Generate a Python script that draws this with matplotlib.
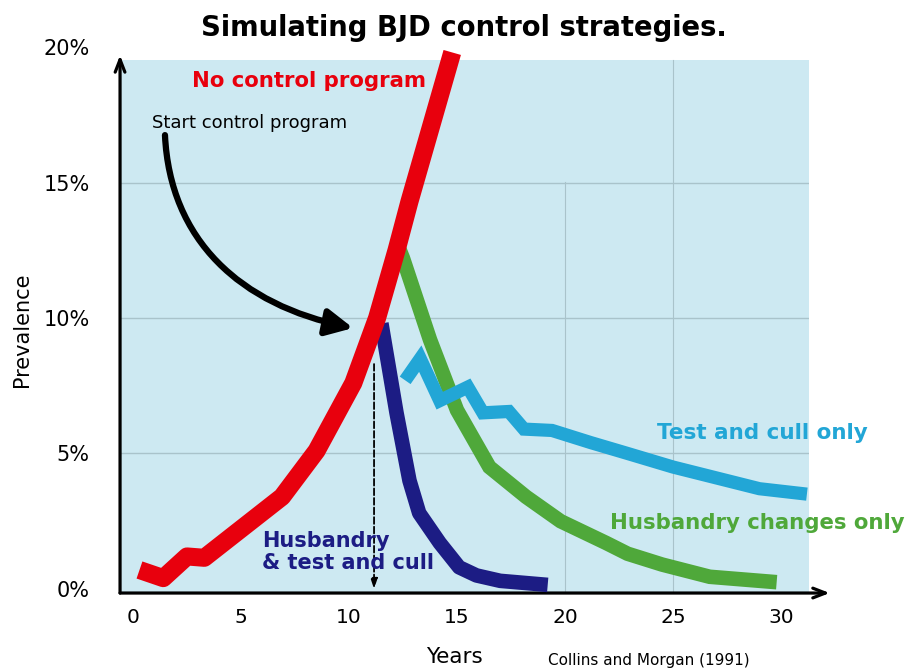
"""
bjd_plot.py - simulated BJD prevalence under different control strategies.
"""
import matplotlib
matplotlib.use("Agg")
import matplotlib.pyplot as plt
import matplotlib.patches as mpatches
from matplotlib.path import Path

no_ctrl_years = [0.3, 1.4, 2.5, 3.3, 6.9, 8.5, 10.2, 11.3, 12.2, 12.8, 14.78]
no_ctrl_prev = [0.7, 0.4, 1.2, 1.15, 3.4, 5.1, 7.6, 10.0, 12.5, 14.3, 19.8]

both_years = [11.5, 12.2, 12.8, 13.25, 14.2, 15.1, 15.9, 17.0, 19.2]
both_prev = [9.8, 6.5, 4.0, 2.8, 1.7, 0.8, 0.5, 0.3, 0.15]

husb_years = [12.2, 12.5, 13.75, 15.0, 16.5, 18.2, 19.8, 21.9, 22.9, 24.5, 26.7, 29.8]
husb_prev = [12.8, 12.2, 9.2, 6.6, 4.5, 3.4, 2.5, 1.7, 1.3, 0.9, 0.45, 0.25]

tc_years = [12.6, 13.3, 14.2, 15.5, 16.2, 17.4, 18.1, 19.4, 21.2, 22.9, 25.0, 27.0, 29.0, 31.2]
tc_prev = [7.7, 8.5, 6.95, 7.45, 6.5, 6.55, 5.9, 5.85, 5.4, 5.0, 4.5, 4.1, 3.7, 3.5]

control_start = 11.16
x_ticks = [0, 5, 10, 15, 20, 25, 30]
y_ticks = [0, 5, 10, 15, 20]
y_labels = ["0%", "5%", "10%", "15%", "20%"]

COLORS = {
    "none": "#e8000d",
    "both": "#1c1c84",
    "husb": "#4fa83a",
    "tc": "#22a6d6",
    "bg": "#cde9f2",
    "grid": "#a9c3cb",
}

fig = plt.figure(figsize=(9.06, 6.71), dpi=100)
ax = fig.add_axes([0.1325, 0.1162, 0.7605, 0.8137])
ax.set_facecolor("none")

ax.set_xticks(x_ticks)
ax.set_yticks(y_ticks)
ax.set_yticklabels(y_labels)
ax.set_xlim(-0.6, 31.3)
ax.set_ylim(-0.15, 20.0)

for s in ax.spines.values():
    s.set_visible(False)

# light-blue plot panel stops a little below the 20% line
ax.add_patch(mpatches.Rectangle((0, 0), 1, 0.976, transform=ax.transAxes,
                                facecolor=COLORS["bg"], edgecolor="none", zorder=0))

# faint grid
for v in [5, 10, 15]:
    ax.axhline(v, color=COLORS["grid"], lw=1, zorder=1)
ax.axvline(20, ymax=0.752, color=COLORS["grid"], lw=0.8, zorder=1)
ax.axvline(25, ymax=0.976, color=COLORS["grid"], lw=0.8, zorder=1)

# axes with arrow heads
axis_arrow = dict(arrowstyle="->,head_length=0.9,head_width=0.35", lw=2.3, color="black",
                  shrinkA=0, shrinkB=0)
ax.annotate("", xy=(0, 0.985), xytext=(0, 0), xycoords="axes fraction",
            arrowprops=axis_arrow, annotation_clip=False)
ax.annotate("", xy=(1.03, 0), xytext=(0, 0), xycoords="axes fraction",
            arrowprops=axis_arrow, annotation_clip=False)

# curves
line_kw = dict(solid_capstyle="butt", solid_joinstyle="miter")
ax.plot(husb_years, husb_prev, color=COLORS["husb"], lw=10.5, zorder=3, **line_kw)
ax.plot(tc_years, tc_prev, color=COLORS["tc"], lw=9.5, zorder=4, **line_kw)
ax.plot(both_years, both_prev, color=COLORS["both"], lw=10.5, zorder=5,
        solid_capstyle="butt", solid_joinstyle="round")
ax.plot(no_ctrl_years, no_ctrl_prev, color=COLORS["none"], lw=13, zorder=6,
        clip_on=False, solid_capstyle="butt", solid_joinstyle="round")

# start of control: dashed drop line + curved pointer
ax.annotate("", xy=(control_start, 0.0), xytext=(control_start, 8.3),
            arrowprops=dict(arrowstyle="-|>,head_length=0.6,head_width=0.2", lw=1.3, ls="--",
                            color="black", shrinkA=0, shrinkB=0), zorder=4)
pointer = Path([(1.48, 16.75), (1.71, 12.88), (4.95, 10.48), (10.19, 9.63)],
               [Path.MOVETO, Path.CURVE4, Path.CURVE4, Path.CURVE4])
ax.add_patch(mpatches.FancyArrowPatch(path=pointer,
                                      arrowstyle="-|>,head_length=0.8,head_width=0.4",
                                      mutation_scale=20, lw=4.5, color="black", zorder=7))
ax.text(0.88, 17.2, "Start control program", fontsize=13, ha="left", va="center")

# labels
bold = dict(fontweight="bold", ha="left", va="center")
ax.text(2.73, 18.76, "No control program", color=COLORS["none"], fontsize=15.3, **bold)
ax.text(5.97, 1.38, "Husbandry\n& test and cull", color=COLORS["both"], fontsize=15,
        linespacing=1.12, zorder=8, **bold)
ax.text(24.26, 5.77, "Test and cull only", color=COLORS["tc"], fontsize=15.5, **bold)
ax.text(22.08, 2.45, "Husbandry changes only", color=COLORS["husb"], fontsize=15.3,
        clip_on=False, **bold)

ax.tick_params(axis="both", length=0)
ax.tick_params(axis="y", pad=22, labelsize=15)
ax.tick_params(axis="x", pad=11, labelsize=14.5)

fig.text(0.512, 0.958, "Simulating BJD control strategies.", fontsize=19.8, fontweight="bold",
         ha="center", va="center")
fig.text(0.502, 0.021, "Years", fontsize=15.5, ha="center", va="center")
fig.text(0.605, 0.016, "Collins and Morgan (1991)", fontsize=11, ha="left", va="center")
fig.text(0.024, 0.508, "Prevalence", fontsize=15, rotation=90, ha="center", va="center")

fig.savefig("out.png", dpi=100, facecolor="white")
